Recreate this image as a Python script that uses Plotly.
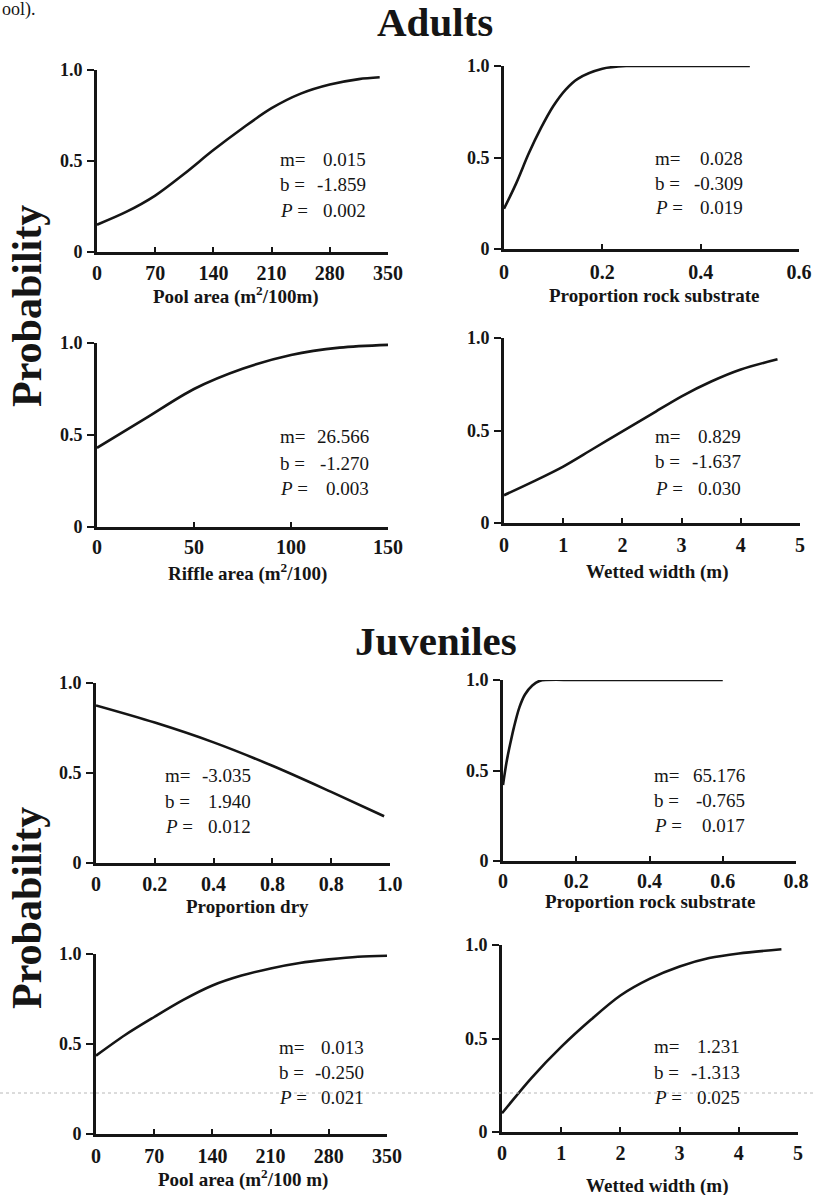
import plotly.graph_objects as go

# ---------------- data ----------------
# Adults
adult_pool_x = [0, 35, 70, 105, 140, 175, 210, 245, 280, 315, 340]
adult_pool_p = [0.15, 0.22, 0.31, 0.43, 0.56, 0.68, 0.79, 0.87, 0.92, 0.95, 0.96]

adult_rock_x = [0, 0.025, 0.05, 0.075, 0.1, 0.125, 0.15, 0.2, 0.25, 0.3, 0.4, 0.5]
adult_rock_p = [0.22, 0.36, 0.52, 0.66, 0.78, 0.87, 0.93, 0.985, 1.0, 1.0, 1.0, 1.0]

adult_riffle_x = [0, 25, 50, 75, 100, 125, 150]
adult_riffle_p = [0.43, 0.59, 0.75, 0.86, 0.935, 0.975, 0.99]

adult_width_x = [0, 0.5, 1, 1.5, 2, 2.5, 3, 3.5, 4, 4.62]
adult_width_p = [0.15, 0.225, 0.305, 0.40, 0.495, 0.59, 0.685, 0.765, 0.83, 0.885]

# Juveniles
juv_dry_x = [0, 0.2, 0.4, 0.6, 0.8, 0.98]
juv_dry_p = [0.875, 0.78, 0.67, 0.54, 0.395, 0.26]

juv_rock_x = [0, 0.01, 0.02, 0.03, 0.045, 0.06, 0.08, 0.1, 0.2, 0.4, 0.6]
juv_rock_p = [0.42, 0.55, 0.65, 0.74, 0.85, 0.92, 0.97, 0.995, 1.0, 1.0, 1.0]

juv_pool_x = [0, 35, 70, 105, 140, 175, 210, 245, 280, 315, 350]
juv_pool_p = [0.435, 0.55, 0.65, 0.745, 0.825, 0.88, 0.92, 0.95, 0.97, 0.985, 0.99]

juv_width_x = [0, 0.5, 1, 1.5, 2, 2.5, 3, 3.5, 4, 4.72]
juv_width_p = [0.10, 0.29, 0.455, 0.60, 0.73, 0.82, 0.885, 0.93, 0.955, 0.977]

# tick labels
y_tickvals = [0, 0.5, 1.0]
y_ticktext = ["0", "0.5", "1.0"]
pool_ticks = [0, 70, 140, 210, 280, 350]
rock6_ticks = [0, 0.2, 0.4, 0.6]
riffle_ticks = [0, 50, 100, 150]
width_ticks = [0, 1, 2, 3, 4, 5]
dry_ticks = [0, 0.2, 0.4, 0.6, 0.8, 1.0]
dry_ticktext = ["0", "0.2", "0.4", "0.8", "0.8", "1.0"]
rock8_ticks = [0, 0.2, 0.4, 0.6, 0.8]

# fitted statistics (m, b, P) per panel
stats_m = ["0.015", "0.028", "26.566", "0.829", "-3.035", "65.176", "0.013", "1.231"]
stats_b = ["-1.859", "-0.309", "-1.270", "-1.637", "1.940", "-0.765", "-0.250", "-1.313"]
stats_P = ["0.002", "0.019", "0.003", "0.030", "0.012", "0.017", "0.021", "0.025"]

x_titles = ["Pool area (m<sup>2</sup>/100m)", "Proportion rock substrate",
            "Riffle area (m<sup>2</sup>/100)", "Wetted width (m)",
            "Proportion dry", "Proportion rock substrate",
            "Pool area (m<sup>2</sup>/100 m)", "Wetted width (m)"]

# ---------------- layout (pixel geometry) ----------------
W, H = 813, 1195
SERIF = "Liberation Serif"
INK = "#151515"

def fx(p):
    return p / W

def fy(p):
    return 1 - p / H

panels = [
    dict(x=adult_pool_x, y=adult_pool_p, xd=(97, 388), yd=(70, 252), xr=350,
         tv=pool_ticks, tt=[str(v) for v in pool_ticks], so=1, tpos=(236, 295),
         sl=278, sr=368, sy=(159, 184, 210)),
    dict(x=adult_rock_x, y=adult_rock_p, xd=(504, 799), yd=(66, 249), xr=0.6,
         tv=rock6_ticks, tt=["0", "0.2", "0.4", "0.6"], so=3, tpos=(654, 296),
         sl=653, sr=745, sy=(158, 183, 208)),
    dict(x=adult_riffle_x, y=adult_riffle_p, xd=(97, 388), yd=(343, 527), xr=150,
         tv=riffle_ticks, tt=[str(v) for v in riffle_ticks], so=0, tpos=(247, 572),
         sl=278, sr=371, sy=(437, 463, 488)),
    dict(x=adult_width_x, y=adult_width_p, xd=(504, 800), yd=(338, 523), xr=5,
         tv=width_ticks, tt=[str(v) for v in width_ticks], so=2, tpos=(657, 572),
         sl=653, sr=743, sy=(437, 462, 488)),
    dict(x=juv_dry_x, y=juv_dry_p, xd=(96, 390), yd=(683, 863), xr=1.0,
         tv=dry_ticks, tt=dry_ticktext, so=1, tpos=(247, 907),
         sl=163, sr=253, sy=(775, 801, 826)),
    dict(x=juv_rock_x, y=juv_rock_p, xd=(503, 796), yd=(680, 861), xr=0.8,
         tv=rock8_ticks, tt=["0", "0.2", "0.4", "0.6", "0.8"], so=0, tpos=(650, 901),
         sl=652, sr=747, sy=(775, 800, 825)),
    dict(x=juv_pool_x, y=juv_pool_p, xd=(96, 387), yd=(954, 1134), xr=350,
         tv=pool_ticks, tt=[str(v) for v in pool_ticks], so=2, tpos=(243, 1178),
         sl=277, sr=366, sy=(1047, 1072, 1097)),
    dict(x=juv_width_x, y=juv_width_p, xd=(502, 798), yd=(945, 1132), xr=5,
         tv=width_ticks, tt=[str(v) for v in width_ticks], so=1, tpos=(657, 1186),
         sl=652, sr=742, sy=(1046, 1072, 1097)),
]

fig = go.Figure()
layout = dict(
    width=W, height=H, margin=dict(l=0, r=0, t=0, b=0, autoexpand=False),
    paper_bgcolor="white", plot_bgcolor="white", showlegend=False,
    font=dict(family=SERIF, color=INK),
)
annotations = []

for i, pn in enumerate(panels, start=1):
    xa = "x" if i == 1 else f"x{i}"
    ya = "y" if i == 1 else f"y{i}"
    fig.add_trace(go.Scatter(
        x=pn["x"], y=pn["y"], mode="lines", xaxis=xa, yaxis=ya,
        line=dict(color=INK, width=2.6, shape="spline", smoothing=0.9),
        cliponaxis=False, hoverinfo="skip"))
    xk = "xaxis" if i == 1 else f"xaxis{i}"
    yk = "yaxis" if i == 1 else f"yaxis{i}"
    layout[xk] = dict(
        domain=[fx(pn["xd"][0]), fx(pn["xd"][1])], range=[0, pn["xr"]],
        anchor=ya, showline=True, linewidth=2.6, linecolor=INK,
        ticks="inside", ticklen=5, tickwidth=2, tickcolor=INK,
        tickvals=pn["tv"], ticktext=pn["tt"], ticklabelstandoff=pn["so"],
        tickfont=dict(family=SERIF, size=20, weight="bold", color=INK),
        showgrid=False, zeroline=False, fixedrange=True)
    layout[yk] = dict(
        domain=[fy(pn["yd"][1]), fy(pn["yd"][0])], range=[0, 1],
        anchor=xa, showline=True, linewidth=2.6, linecolor=INK,
        ticks="outside", ticklen=7, tickwidth=2, tickcolor=INK,
        tickvals=y_tickvals, ticktext=y_ticktext, ticklabelstandoff=1,
        tickfont=dict(family=SERIF, size=18, weight="bold", color=INK),
        showgrid=False, zeroline=False, fixedrange=True)
    # x-axis title
    annotations.append(dict(
        text=x_titles[i - 1], x=fx(pn["tpos"][0]), y=fy(pn["tpos"][1]),
        xref="paper", yref="paper", showarrow=False, xanchor="center", yanchor="middle",
        font=dict(family=SERIF, size=19, weight="bold", color=INK)))
    # statistics block
    labels = ["m=", "b =", "<i>P</i> ="]
    values = [stats_m[i - 1], stats_b[i - 1], stats_P[i - 1]]
    for lab, val, yy in zip(labels, values, pn["sy"]):
        annotations.append(dict(
            text=lab, x=fx(pn["sl"]), y=fy(yy), xref="paper", yref="paper",
            showarrow=False, xanchor="left", yanchor="middle",
            font=dict(family=SERIF, size=19, color=INK)))
        annotations.append(dict(
            text=val, x=fx(pn["sr"]), y=fy(yy), xref="paper", yref="paper",
            showarrow=False, xanchor="right", yanchor="middle",
            font=dict(family=SERIF, size=19, color=INK)))

# group titles
annotations.append(dict(text="Adults", x=fx(435), y=fy(22), xref="paper", yref="paper",
                        showarrow=False, xanchor="center", yanchor="middle",
                        font=dict(family=SERIF, size=41, weight="bold", color=INK)))
annotations.append(dict(text="Juveniles", x=fx(436), y=fy(641), xref="paper", yref="paper",
                        showarrow=False, xanchor="center", yanchor="middle",
                        font=dict(family=SERIF, size=41, weight="bold", color=INK)))
# shared y titles
for yc in (306, 908):
    annotations.append(dict(text="Probability", x=fx(27), y=fy(yc), xref="paper", yref="paper",
                            showarrow=False, xanchor="center", yanchor="middle", textangle=-90,
                            font=dict(family=SERIF, size=42, weight="bold", color=INK)))
# fragment of preceding page text
annotations.append(dict(text="ool).", x=0, y=fy(9), xref="paper", yref="paper",
                        showarrow=False, xanchor="left", yanchor="middle",
                        font=dict(family=SERIF, size=18, color=INK)))

layout["annotations"] = annotations
layout["shapes"] = [dict(type="line", xref="paper", yref="paper", x0=0, x1=1,
                         y0=fy(1093), y1=fy(1093),
                         line=dict(color="#b8b8b8", width=1, dash="dot"))]
fig.update_layout(**layout)
fig.write_html("out.html", config={"responsive": False, "displayModeBar": False},
               post_script="document.body.style.margin='0';document.body.style.overflow='hidden';")
